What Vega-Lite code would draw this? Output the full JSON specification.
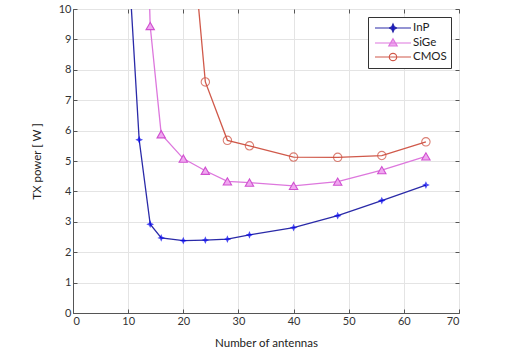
{
  "$schema": "https://vega.github.io/schema/vega-lite/v6.json",
  "autosize": "none",
  "width": 386,
  "height": 304,
  "padding": {"left": 73, "top": 9, "right": 46, "bottom": 43},
  "background": "white",
  "config": {
    "font": "Lato",
    "view": {"stroke": "#555", "strokeWidth": 1},
    "axis": {
      "labelFont": "Lato", "labelFontSize": 11, "labelColor": "#333",
      "titleFont": "Lato", "titleFontSize": 11.5, "titleFontWeight": "normal", "titleColor": "#222",
      "gridColor": "#e4e4e4", "gridWidth": 1,
      "domainColor": "#555", "tickColor": "#555", "tickSize": -4
    }
  },
  "data": {"values": [
    {"n": 10, "p": 11.8, "s": "InP"},
    {"n": 12, "p": 5.7, "s": "InP"},
    {"n": 14, "p": 2.92, "s": "InP"},
    {"n": 16, "p": 2.47, "s": "InP"},
    {"n": 20, "p": 2.38, "s": "InP"},
    {"n": 24, "p": 2.4, "s": "InP"},
    {"n": 28, "p": 2.43, "s": "InP"},
    {"n": 32, "p": 2.57, "s": "InP"},
    {"n": 40, "p": 2.81, "s": "InP"},
    {"n": 48, "p": 3.2, "s": "InP"},
    {"n": 56, "p": 3.7, "s": "InP"},
    {"n": 64, "p": 4.21, "s": "InP"},
    {"n": 12, "p": 22, "s": "SiGe"},
    {"n": 14, "p": 9.44, "s": "SiGe"},
    {"n": 16, "p": 5.88, "s": "SiGe"},
    {"n": 20, "p": 5.08, "s": "SiGe"},
    {"n": 24, "p": 4.68, "s": "SiGe"},
    {"n": 28, "p": 4.33, "s": "SiGe"},
    {"n": 32, "p": 4.29, "s": "SiGe"},
    {"n": 40, "p": 4.18, "s": "SiGe"},
    {"n": 48, "p": 4.32, "s": "SiGe"},
    {"n": 56, "p": 4.7, "s": "SiGe"},
    {"n": 64, "p": 5.15, "s": "SiGe"},
    {"n": 20, "p": 15.6, "s": "CMOS"},
    {"n": 24, "p": 7.6, "s": "CMOS"},
    {"n": 28, "p": 5.68, "s": "CMOS"},
    {"n": 32, "p": 5.5, "s": "CMOS"},
    {"n": 40, "p": 5.13, "s": "CMOS"},
    {"n": 48, "p": 5.12, "s": "CMOS"},
    {"n": 56, "p": 5.18, "s": "CMOS"},
    {"n": 64, "p": 5.63, "s": "CMOS"}
  ]},
  "encoding": {
    "x": {"field": "n", "type": "quantitative", "scale": {"domain": [0, 70], "nice": false}},
    "y": {"field": "p", "type": "quantitative", "scale": {"domain": [0, 10], "nice": false}}
  },
  "resolve": {"axis": {"x": "independent", "y": "independent"}},
  "layer": [
    {
      "mark": {"type": "line", "clip": true, "strokeWidth": 1.3},
      "encoding": {
        "x": {"field": "n", "type": "quantitative", "title": "Number of antennas",
              "axis": {"values": [0, 10, 20, 30, 40, 50, 60, 70], "titlePadding": 11, "labelPadding": 6}},
        "y": {"field": "p", "type": "quantitative", "title": "TX power [ W ]",
              "axis": {"values": [0, 1, 2, 3, 4, 5, 6, 7, 8, 9, 10], "titlePadding": 16, "labelPadding": 6}},
        "stroke": {
          "field": "s", "type": "nominal",
          "scale": {"domain": ["InP", "SiGe", "CMOS"], "range": ["#2a2aa8", "#dd77dd", "#d0594a"]},
          "legend": {
            "title": null, "orient": "top-right", "offset": 8,
            "padding": 4, "strokeColor": "#333", "fillColor": "white",
            "symbolSize": 144, "symbolStrokeWidth": 1.2, "labelOffset": 27,
            "labelFont": "Lato", "labelFontSize": 11.5, "labelColor": "#222", "rowPadding": 1,
            "encode": {
              "symbols": {"update": {
                "x": {"value": 21},
                "shape": {"signal": "datum.value === 'InP' ? 'M-3,0L3,0M0,-0.65L0.2,-0.2L0.65,0L0.2,0.2L0,0.65L-0.2,0.2L-0.65,0L-0.2,-0.2Z' : datum.value === 'SiGe' ? 'M-3,0L3,0M0,-0.7L0.7,0.5L-0.7,0.5Z' : 'M-3,0L3,0M0.62,0A0.62,0.62 0 1,1 -0.62,0A0.62,0.62 0 1,1 0.62,0Z'"},
                "fill": {"signal": "datum.value === 'InP' ? '#0000ee' : datum.value === 'SiGe' ? '#f0a8f0' : 'transparent'"},
                "stroke": {"signal": "datum.value === 'InP' ? '#2a2aa8' : datum.value === 'SiGe' ? '#dd66dd' : '#d0594a'"}
              }}
            }
          }
        }
      }
    },
    {
      "transform": [{"filter": "datum.s === 'InP'"}],
      "mark": {"type": "point", "clip": true, "filled": true, "color": "#0000ee", "size": 60,
               "shape": "M0,-1L0.3,-0.3L1,0L0.3,0.3L0,1L-0.3,0.3L-1,0L-0.3,-0.3Z"},
      "encoding": {
        "x": {"field": "n", "type": "quantitative",
              "axis": {"orient": "top", "values": [0, 10, 20, 30, 40, 50, 60, 70], "labels": false, "grid": false, "title": null, "domain": false}},
        "y": {"field": "p", "type": "quantitative",
              "axis": {"orient": "right", "values": [0, 1, 2, 3, 4, 5, 6, 7, 8, 9, 10], "labels": false, "grid": false, "title": null, "domain": false}}
      }
    },
    {
      "transform": [{"filter": "datum.s === 'SiGe'"}],
      "mark": {"type": "point", "clip": true, "shape": "triangle-up", "size": 70,
               "fill": "#f0a8f0", "fillOpacity": 1, "stroke": "#d050d0", "strokeWidth": 1.1},
      "encoding": {
        "x": {"field": "n", "type": "quantitative", "axis": null},
        "y": {"field": "p", "type": "quantitative", "axis": null}
      }
    },
    {
      "transform": [{"filter": "datum.s === 'CMOS'"}],
      "mark": {"type": "point", "clip": true, "shape": "circle", "size": 70, "filled": false,
               "stroke": "#cc4a3a", "strokeWidth": 1.1},
      "encoding": {
        "x": {"field": "n", "type": "quantitative", "axis": null},
        "y": {"field": "p", "type": "quantitative", "axis": null}
      }
    }
  ]
}
